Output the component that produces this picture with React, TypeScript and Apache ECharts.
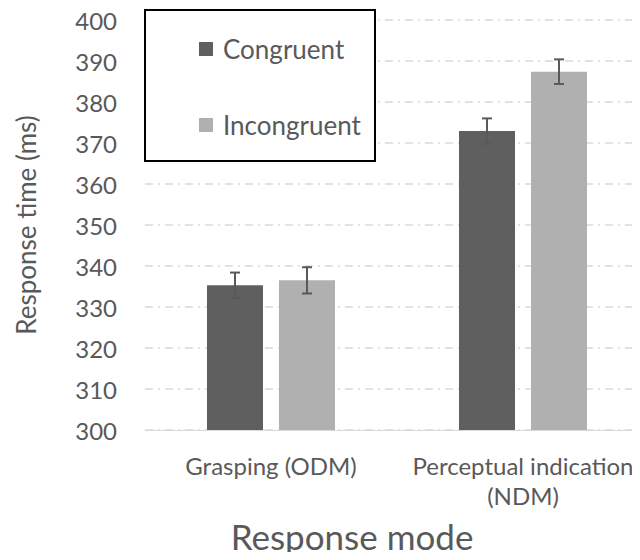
import React, { useEffect, useRef } from "react";
import * as echarts from "echarts";

const categories = ["Grasping (ODM)", "Perceptual indication\n(NDM)"];
const seriesNames = ["Congruent", "Incongruent"];
const congruent = [335.3, 372.9];
const incongruent = [336.5, 387.4];
const congruentErr = [3.1, 3.1];
const incongruentErr = [3.2, 3.0];
const yTicks = { min: 300, max: 400, interval: 10 };

const BAR_W = 56;
const GAP = 16;
const FONT = "Lato, 'Open Sans', sans-serif";
const TXT = "#595959";

export default function App() {
  const ref = useRef<HTMLDivElement>(null);
  useEffect(() => {
    if (!ref.current) return;
    const chart = echarts.init(ref.current, null, { renderer: "svg" });
    const errData = (vals: number[], errs: number[], side: number) =>
      vals.map((v, i) => [i, v - errs[i], v + errs[i], side]);
    const renderErr = (params: any, api: any) => {
      const idx = api.value(0);
      const side = api.value(3);
      const lo = api.coord([idx, api.value(1)]);
      const hi = api.coord([idx, api.value(2)]);
      const x = lo[0] + side * (BAR_W + GAP) / 2;
      const cap = 5;
      const style = { stroke: "#595959", lineWidth: 2 };
      return {
        type: "group",
        children: [
          { type: "line", shape: { x1: x, y1: lo[1], x2: x, y2: hi[1] }, style },
          { type: "line", shape: { x1: x - cap, y1: lo[1], x2: x + cap, y2: lo[1] }, style },
          { type: "line", shape: { x1: x - cap, y1: hi[1], x2: x + cap, y2: hi[1] }, style },
        ],
      };
    };
    chart.setOption({
      animation: false,
      textStyle: { fontFamily: FONT },
      grid: { left: 145, right: -9, top: 20, bottom: 130, containLabel: false, outerBoundsMode: "none" },
      legend: {
        data: seriesNames,
        orient: "vertical",
        left: 194,
        top: 29,
        icon: "rect",
        itemWidth: 14,
        itemHeight: 14,
        itemGap: 46,
        z: 10,
        textStyle: { fontSize: 26, color: TXT, fontFamily: FONT, lineHeight: 30, padding: [0, 0, 0, 5] },
      },
      graphic: [
        {
          type: "rect",
          z: 5,
          shape: { x: 145, y: 10, width: 230, height: 151 },
          style: { fill: "#fff", stroke: "#000", lineWidth: 2 },
        },
      ],
      xAxis: {
        type: "category",
        data: categories,
        name: "Response mode",
        nameLocation: "middle",
        nameGap: 88,
        nameTextStyle: { fontSize: 35, color: TXT, fontFamily: FONT, padding: [0, 90, 0, 0] },
        axisLine: { lineStyle: { color: "#d9d9d9", width: 1 } },
        axisTick: { show: false },
        axisLabel: { interval: 0, fontSize: 24, color: TXT, fontFamily: FONT, margin: 20, lineHeight: 30 },
      },
      yAxis: {
        type: "value",
        min: yTicks.min,
        max: yTicks.max,
        interval: yTicks.interval,
        name: "Response time (ms)",
        nameLocation: "middle",
        nameGap: 106,
        nameTextStyle: { fontSize: 26, color: TXT, fontFamily: FONT },
        axisLine: { show: false },
        axisTick: { show: false },
        axisLabel: { fontSize: 24, color: TXT, fontFamily: FONT, margin: 28 },
        splitLine: { lineStyle: { color: "#d9d9d9", type: [8, 5, 2, 5], width: 1.5 } },
      },
      series: [
        {
          name: seriesNames[0],
          type: "bar",
          data: congruent,
          barWidth: BAR_W,
          barGap: (GAP / BAR_W) * 100 + "%",
          itemStyle: { color: "#5f5f5f" },
        },
        {
          name: seriesNames[1],
          type: "bar",
          data: incongruent,
          barWidth: BAR_W,
          itemStyle: { color: "#b0b0b0" },
        },
        {
          type: "custom",
          renderItem: renderErr,
          data: errData(congruent, congruentErr, -1),
          encode: { x: 0, y: [1, 2] },
          z: 3,
        },
        {
          type: "custom",
          renderItem: renderErr,
          data: errData(incongruent, incongruentErr, 1),
          encode: { x: 0, y: [1, 2] },
          z: 3,
        },
      ],
    });
    return () => chart.dispose();
  }, []);
  return <div ref={ref} style={{ width: 640, height: 560, margin: -8 }} />;
}
